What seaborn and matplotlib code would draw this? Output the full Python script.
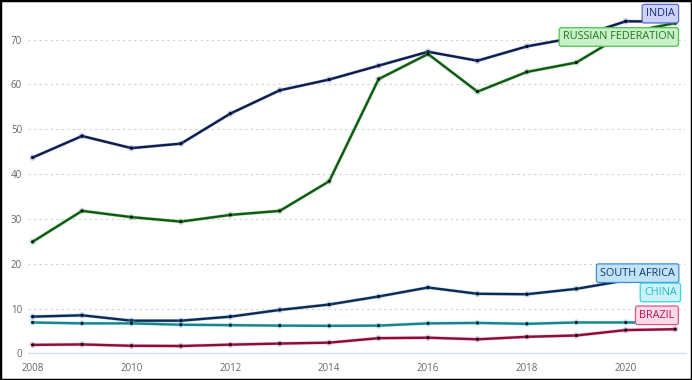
import pandas as pd
import seaborn as sns
import matplotlib.pyplot as plt
import matplotlib.patheffects as pe

sns.set_theme(style="white")
plt.rcParams['font.family'] = ['Open Sans', 'DejaVu Sans']

years = list(range(2008, 2022))
india = [43.7, 48.5, 45.8, 46.8, 53.5, 58.7, 61.1, 64.2, 67.3, 65.3, 68.5, 70.5, 74.1, 74.0]
russia = [24.9, 31.8, 30.4, 29.4, 30.9, 31.8, 38.4, 61.2, 66.8, 58.4, 62.8, 64.9, 71.5, 73.7]
south_africa = [8.2, 8.5, 7.3, 7.3, 8.2, 9.7, 10.9, 12.7, 14.7, 13.3, 13.2, 14.4, 16.3, 17.2]
china = [6.9, 6.7, 6.7, 6.4, 6.3, 6.2, 6.15, 6.2, 6.7, 6.8, 6.6, 6.9, 6.9, 6.9]
brazil = [1.9, 2.0, 1.7, 1.65, 1.95, 2.2, 2.4, 3.4, 3.5, 3.15, 3.7, 4.0, 5.2, 5.4]

countries = ["INDIA", "RUSSIAN FEDERATION", "SOUTH AFRICA", "CHINA", "BRAZIL"]
series = [india, russia, south_africa, china, brazil]
line_colors = ["#0c1d4a", "#0f5a12", "#0d2b52", "#17838e", "#8a0d3c"]
glow_colors = ["#4a66c8", "#3aa83a", "#3a80c8", "#3cc8d8", "#d8407a"]
box_face = ["#cdd3f6", "#c9f0c9", "#c2e2f8", "#c9f3f8", "#fbd9e5"]
box_edge = ["#5b6bd8", "#50c450", "#3c8cd8", "#40d0e0", "#e0568c"]
text_colors = ["#1b2b8c", "#1b7c1b", "#0b3c6c", "#2ab8c8", "#c0125a"]
label_x = [2020.7, 2019.86, 2020.24, 2020.7, 2020.63]
label_y = [75.8, 70.6, 17.9, 13.6, 8.5]

df = pd.DataFrame({
    "year": years * len(countries),
    "value": [v for s in series for v in s],
    "country": [c for c in countries for _ in years],
})

fig, ax = plt.subplots(figsize=(6.92, 3.8), dpi=100)
fig.subplots_adjust(left=0.04, right=0.99, top=0.99, bottom=0.07)

sns.lineplot(data=df, x="year", y="value", hue="country", hue_order=countries,
             palette=dict(zip(countries, line_colors)), linewidth=1.7,
             marker="o", markersize=2.2, markeredgewidth=0, legend=False, ax=ax)

for line, glow in zip(ax.get_lines(), glow_colors):
    line.set_markerfacecolor("#05081a")
    line.set_path_effects([pe.Stroke(linewidth=2.5, foreground=glow, alpha=0.3), pe.Normal()])

for name, x, y, fc, ec, tc in zip(countries, label_x, label_y, box_face, box_edge, text_colors):
    ax.text(x, y, name, ha="center", va="center", fontsize=7.8, color=tc, zorder=6,
            bbox=dict(boxstyle="round,pad=0.35,rounding_size=0.2", fc=fc, ec=ec, lw=0.9))

ax.set_xlim(2007.9, 2021.2)
ax.set_ylim(0, 78)
ax.set_xticks(range(2008, 2021, 2))
ax.set_yticks(range(0, 71, 10))
ax.set_xlabel("")
ax.set_ylabel("")
ax.tick_params(axis="both", labelsize=7, labelcolor="#666666", length=0, pad=4)
ax.tick_params(axis="x", length=3, color="#cfe0f0", direction="out")
ax.yaxis.grid(True, linestyle=(0, (2, 3)), color="#d0d0d0", linewidth=0.8)
for s in ["top", "right", "left"]:
    ax.spines[s].set_visible(False)
ax.spines["bottom"].set_color("#cfe0f0")
ax.spines["bottom"].set_linewidth(1)

# black frame around the whole image
fig.patches.append(plt.Rectangle((0, 0), 1, 1, transform=fig.transFigure,
                                 fill=False, ec="black", lw=2.5))

plt.savefig("out.png", dpi=100)
